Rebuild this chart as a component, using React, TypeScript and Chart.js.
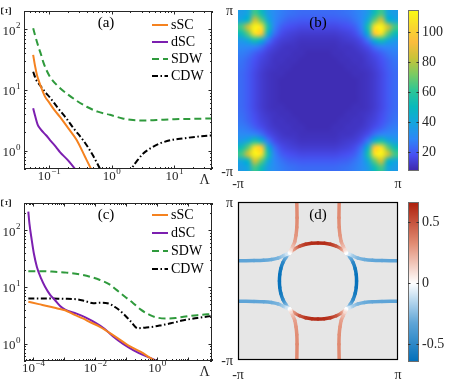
import React, { useEffect, useRef } from "react";
import { Chart, registerables } from "chart.js";

Chart.register(...registerables);

const SERIF = '"Liberation Serif", "Times New Roman", Times, serif';
const INK = "#262626";

// ---------------- shared ----------------
const seriesNames = ["sSC", "dSC", "SDW", "CDW"];
const seriesColors = ["#f5821f", "#7c1fb0", "#2f9a3c", "#000000"];
const seriesDashes: number[][] = [[], [], [7, 4], [6, 2.5, 1.5, 2.5]];

// ---------------- panel (a) ----------------
const aXRange = [0.04, 40];
const aYRange = [0.5, 200];
const aXTickExp = [-1, 0, 1];
const aYTickExp = [0, 1, 2];
const aSscX = [0.056, 0.06, 0.065, 0.07, 0.078, 0.087, 0.1, 0.12, 0.15, 0.2, 0.277, 0.38, 0.48, 0.55];
const aSscY = [38, 25, 17, 13.5, 10, 7.7, 6.3, 4.8, 3.6, 2.4, 1.5, 0.78, 0.48, 0.36];
const aDscX = [0.056, 0.06, 0.066, 0.075, 0.09, 0.104, 0.13, 0.15, 0.2, 0.27, 0.32];
const aDscY = [5.0, 3.8, 2.7, 2.2, 1.8, 1.5, 1.15, 0.95, 0.7, 0.48, 0.38];
const aSdwX = [0.056, 0.06, 0.065, 0.07, 0.075, 0.081, 0.09, 0.104, 0.14, 0.19, 0.28, 0.4, 0.6, 0.94, 1.5, 2.2, 3.5, 5.2, 10, 20, 42];
const aSdwY = [104, 80, 60, 47, 38, 29, 22, 16.5, 11.5, 8.8, 6.6, 5.3, 4.4, 3.9, 3.4, 3.2, 3.15, 3.2, 3.3, 3.35, 3.4];
const aCdwX = [0.056, 0.062, 0.072, 0.085, 0.104, 0.14, 0.19, 0.25, 0.35, 0.5, 0.65, 0.75, 1.3, 1.9, 2.1, 2.6, 3.2, 4.2, 5.9, 9, 14, 25, 42];
const aCdwY = [20, 15, 12, 9.5, 7.5, 5, 3.4, 2.3, 1.5, 0.85, 0.51, 0.4, null, 0.4, 0.51, 0.7, 0.9, 1.1, 1.32, 1.5, 1.6, 1.72, 1.8];

// ---------------- panel (c) ----------------
const cXRange = [5e-5, 60];
const cYRange = [0.5, 300];
const cXTickExp = [-4, -2, 0];
const cYTickExp = [0, 1, 2];
const cSscX = [6.9e-5, 1.5e-4, 3e-4, 6e-4, 1.07e-3, 2e-3, 4e-3, 7e-3, 0.0143, 0.04, 0.134, 0.3, 0.6, 1.0];
const cSscY = [5.5, 5.0, 4.6, 4.2, 3.9, 3.3, 2.8, 2.4, 2.0, 1.4, 0.9, 0.72, 0.57, 0.48];
const cDscX = [6.9e-5, 7.5e-5, 8.9e-5, 1.05e-4, 1.3e-4, 1.8e-4, 2.4e-4, 3.5e-4, 5e-4, 7.5e-4, 1.07e-3, 2.5e-3, 5e-3, 0.011, 0.02, 0.039, 0.08, 0.17, 0.4, 0.86, 1.2];
const cDscY = [211, 130, 67, 38, 22.8, 14, 10.1, 7.3, 5.9, 4.6, 4.0, 3.4, 2.9, 2.3, 1.85, 1.34, 1.0, 0.78, 0.62, 0.52, 0.46];
const cSdwX = [6.9e-5, 2e-4, 5e-4, 1.2e-3, 4e-3, 0.0143, 0.03, 0.049, 0.09, 0.17, 0.3, 0.6, 1.0, 2.1, 4, 7.2, 20, 60];
const cSdwY = [19, 19, 18.5, 17.9, 16.3, 13.3, 11, 8.9, 6.8, 5.2, 4.0, 3.2, 2.9, 2.8, 2.85, 3.0, 3.2, 3.36];
const cCdwX = [6.9e-5, 3e-4, 1e-3, 2.5e-3, 5e-3, 8.7e-3, 0.015, 0.025, 0.045, 0.079, 0.14, 0.24, 0.45, 0.75, 1.5, 2.8, 7.2, 20, 60];
const cCdwY = [6.3, 6.3, 6.2, 6.1, 5.6, 5.2, 5.3, 5.2, 4.4, 3.45, 2.5, 1.88, 1.95, 2.0, 2.15, 2.3, 2.6, 2.85, 3.1];

// ---------------- panel (b) ----------------
const bColorRange = [7.3, 114.5];
const bColorTicks = [20, 40, 60, 80, 100];
// one quadrant (kx, ky from 0 to pi), rows = ky, columns = kx
const bQuadrant = [
  [9, 9, 9, 9, 9, 9, 10, 11, 13, 16, 20, 23],
  [9, 9, 9, 9, 9, 9, 10, 11, 13, 16, 20, 23],
  [9, 9, 9, 9, 9, 10, 10, 11, 13, 16, 20, 23],
  [9, 9, 9, 9, 10, 10, 11, 12, 14, 17, 21, 24],
  [9, 9, 9, 10, 10, 11, 11, 13, 15, 18, 22, 25],
  [9, 9, 10, 10, 11, 11, 12, 14, 17, 21, 25, 27],
  [10, 10, 10, 11, 11, 12, 14, 17, 24, 28, 29, 30],
  [11, 11, 11, 12, 13, 14, 17, 26, 45, 55, 42, 36],
  [13, 13, 13, 14, 15, 17, 24, 45, 98, 106, 68, 52],
  [16, 16, 16, 17, 18, 21, 28, 55, 106, 113, 84, 64],
  [20, 20, 20, 21, 22, 25, 29, 42, 68, 84, 48, 40],
  [23, 23, 23, 24, 25, 27, 30, 36, 52, 64, 40, 36],
];

// ---------------- panel (d) ----------------
const dColorRange = [-0.645, 0.665];
const dColorTicks = [-0.5, 0, 0.5];
// k in units of pi, top-left quadrant pieces
const dVertX = [-0.265, -0.262, -0.265, -0.275, -0.29, -0.315, -0.34, -0.354];
const dVertY = [1.0, 0.8, 0.68, 0.58, 0.5, 0.44, 0.39, 0.354];
const dVertGap = [0.33, 0.33, 0.32, 0.3, 0.27, 0.2, 0.1, 0.0];
const dHorX = [-1.0, -0.8, -0.68, -0.58, -0.5, -0.44, -0.39, -0.354];
const dHorY = [0.255, 0.258, 0.262, 0.272, 0.29, 0.315, 0.34, 0.354];
const dHorGap = [-0.33, -0.33, -0.32, -0.3, -0.27, -0.2, -0.1, 0.0];
const dArcX = [-0.354, -0.3, -0.23, -0.155, -0.08, 0, 0.08, 0.155, 0.23, 0.3, 0.354];
const dArcY = [0.354, 0.4, 0.44, 0.465, 0.478, 0.482, 0.478, 0.465, 0.44, 0.4, 0.354];
const dArcGap = [0, 0.3, 0.5, 0.58, 0.62, 0.63, 0.62, 0.58, 0.5, 0.3, 0];
const dSideX = [-0.354, -0.4, -0.44, -0.465, -0.478, -0.482, -0.478, -0.465, -0.44, -0.4, -0.354];
const dSideY = [0.354, 0.3, 0.23, 0.155, 0.08, 0, -0.08, -0.155, -0.23, -0.3, -0.354];
const dSideGap = [0, -0.3, -0.5, -0.58, -0.62, -0.63, -0.62, -0.58, -0.5, -0.3, 0];

// ---------------- colour maps (style) ----------------
const PARULA: number[][] = [
  [0, 62, 38, 168], [0.1, 71, 80, 243], [0.2, 45, 135, 247], [0.3, 20, 165, 222],
  [0.4, 8, 185, 188], [0.5, 45, 198, 150], [0.6, 122, 203, 98], [0.7, 200, 195, 56],
  [0.8, 251, 188, 61], [0.9, 249, 217, 45], [1, 249, 251, 20],
];
const DIVERGE: number[][] = [
  [0, 0, 110, 185], [0.25, 95, 165, 215], [0.5, 255, 255, 255], [0.75, 225, 140, 115], [1, 175, 35, 15],
];
function interp(stops: number[][], t: number): number[] {
  const tt = Math.max(0, Math.min(1, t));
  for (let i = 1; i < stops.length; i++) {
    if (tt <= stops[i][0]) {
      const a = stops[i - 1], b = stops[i];
      const f = (tt - a[0]) / (b[0] - a[0]);
      return [0, 1, 2].map((k) => Math.round(a[k + 1] + (b[k + 1] - a[k + 1]) * f));
    }
  }
  const l = stops[stops.length - 1];
  return [l[1], l[2], l[3]];
}
const parula = (v: number) => interp(PARULA, (v - bColorRange[0]) / (bColorRange[1] - bColorRange[0]));
const diverge = (v: number) => {
  const c = interp(DIVERGE, (v + 0.65) / 1.3);
  return `rgb(${c[0]},${c[1]},${c[2]})`;
};

// ---------------- helpers ----------------
type XY = { x: number; y: number | null };
const zip = (xs: number[], ys: (number | null)[]): XY[] => xs.map((x, i) => ({ x, y: ys[i] }));

function decadeTicks(min: number, max: number) {
  const out: { v: number; major: boolean }[] = [];
  for (let e = Math.floor(Math.log10(min)); e <= Math.ceil(Math.log10(max)); e++) {
    for (let m = 1; m <= 9; m++) {
      const v = m * Math.pow(10, e);
      if (v >= min * 0.999 && v <= max * 1.001) out.push({ v, major: m === 1 });
    }
  }
  return out;
}

function drawPow(ctx: CanvasRenderingContext2D, x: number, y: number, e: number, align: "center" | "right") {
  const sup = e < 0 ? "\u2212" + -e : String(e);
  ctx.font = `13px ${SERIF}`;
  const w1 = ctx.measureText("10").width;
  ctx.font = `9px ${SERIF}`;
  const w2 = ctx.measureText(sup).width;
  const start = align === "center" ? x - (w1 + w2) / 2 : x - w1 - w2;
  ctx.textAlign = "left";
  ctx.textBaseline = "middle";
  ctx.font = `13px ${SERIF}`;
  ctx.fillText("10", start, y);
  ctx.font = `9px ${SERIF}`;
  ctx.fillText(sup, start + w1 + 0.5, y - 5.5);
}

const baseOptions = (padding: any) => ({
  responsive: false,
  maintainAspectRatio: false,
  animation: false,
  devicePixelRatio: 1,
  events: [],
  layout: { padding },
  plugins: { legend: { display: false }, tooltip: { enabled: false } },
});

interface LogPanel {
  tag: string;
  xRange: number[];
  yRange: number[];
  xExp: number[];
  yExp: number[];
  xs: number[][];
  ys: (number | null)[][];
  legendTop: number;
  legendStep: number;
  padding: any;
}

function logChartConfig(p: LogPanel): any {
  const plugin = {
    id: "logAxes",
    afterDatasetsDraw(chart: any) {
      const { ctx, chartArea: a } = chart;
      const sx = chart.scales.x, sy = chart.scales.y;
      ctx.save();
      ctx.strokeStyle = INK;
      ctx.lineWidth = 1;
      ctx.setLineDash([]);
      ctx.beginPath();
      for (const t of decadeTicks(p.xRange[0], p.xRange[1])) {
        const px = Math.round(sx.getPixelForValue(t.v)) + 0.5;
        const L = t.major ? 3.5 : 2;
        ctx.moveTo(px, a.bottom); ctx.lineTo(px, a.bottom - L);
        ctx.moveTo(px, a.top); ctx.lineTo(px, a.top + L);
      }
      for (const t of decadeTicks(p.yRange[0], p.yRange[1])) {
        const py = Math.round(sy.getPixelForValue(t.v)) + 0.5;
        const L = t.major ? 3.5 : 2;
        ctx.moveTo(a.left, py); ctx.lineTo(a.left + L, py);
        ctx.moveTo(a.right, py); ctx.lineTo(a.right - L, py);
      }
      ctx.stroke();
      ctx.strokeRect(a.left + 0.5, a.top + 0.5, a.right - a.left - 1, a.bottom - a.top - 1);
      ctx.restore();
    },
    afterDraw(chart: any) {
      const { ctx, chartArea: a } = chart;
      const sx = chart.scales.x, sy = chart.scales.y;
      ctx.save();
      ctx.fillStyle = INK;
      for (const e of p.xExp) drawPow(ctx, sx.getPixelForValue(Math.pow(10, e)), a.bottom + 8, e, "center");
      for (const e of p.yExp) drawPow(ctx, a.left - 4, sy.getPixelForValue(Math.pow(10, e)) + 2, e, "right");
      ctx.font = `14px ${SERIF}`;
      ctx.textAlign = "center";
      ctx.textBaseline = "middle";
      ctx.fillText("\u039B", a.right - 7.5, a.bottom + 11);
      ctx.save();
      ctx.translate(a.left - 16.5, a.top);
      ctx.rotate(-Math.PI / 2);
      ctx.fillText("\u039E", 0, 0);
      ctx.restore();
      ctx.fillStyle = "#000";
      ctx.font = `15px ${SERIF}`;
      ctx.fillText(p.tag, a.left + 82, a.top + 12);
      chart.data.datasets.forEach((ds: any, i: number) => {
        const yy = a.top + p.legendTop + i * p.legendStep;
        ctx.strokeStyle = ds.borderColor;
        ctx.lineWidth = ds.borderWidth;
        ctx.setLineDash(ds.borderDash || []);
        ctx.beginPath();
        ctx.moveTo(a.right - 60, yy);
        ctx.lineTo(a.right - 44, yy);
        ctx.stroke();
        ctx.setLineDash([]);
        ctx.fillStyle = "#000";
        ctx.font = `14px ${SERIF}`;
        ctx.textAlign = "left";
        ctx.textBaseline = "middle";
        ctx.fillText(ds.label, a.right - 41, yy + 0.5);
      });
      ctx.restore();
    },
  };
  return {
    type: "line",
    data: {
      datasets: p.xs.map((xs, i) => ({
        label: seriesNames[i],
        data: zip(xs, p.ys[i]),
        borderColor: seriesColors[i],
        borderWidth: 2,
        borderDash: seriesDashes[i],
        pointRadius: 0,
        fill: false,
        cubicInterpolationMode: "monotone",
        spanGaps: false,
        clip: 0,
      })),
    },
    options: {
      ...baseOptions(p.padding),
      scales: {
        x: { type: "logarithmic", min: p.xRange[0], max: p.xRange[1], display: false, bounds: "data" },
        y: { type: "logarithmic", min: p.yRange[0], max: p.yRange[1], display: false, bounds: "data" },
      },
    },
    plugins: [plugin],
  };
}

function piLabels(chart: any, dyBottom: number) {
  const { ctx } = chart;
  const sx = chart.scales.x, sy = chart.scales.y;
  const l = sx.getPixelForValue(-1), r = sx.getPixelForValue(1);
  const t = sy.getPixelForValue(1), b = sy.getPixelForValue(-1);
  ctx.fillStyle = INK;
  ctx.font = `14px ${SERIF}`;
  ctx.textBaseline = "middle";
  ctx.textAlign = "right";
  ctx.fillText("\u03C0", l - 5, t + 1);
  ctx.fillText("-\u03C0", l - 5, b + 1);
  ctx.textAlign = "center";
  ctx.fillText("-\u03C0", l, b + dyBottom);
  ctx.fillText("\u03C0", r, b + dyBottom);
}

const squareScales = {
  x: { type: "linear", min: -1, max: 1, display: false, bounds: "data" },
  y: { type: "linear", min: -1, max: 1, display: false, bounds: "data" },
};

function heatConfig(): any {
  const plugin = {
    id: "heat",
    beforeDatasetsDraw(chart: any) {
      const { ctx } = chart;
      const sx = chart.scales.x, sy = chart.scales.y;
      const n = bQuadrant.length;
      const N = 2 * n;
      const off = document.createElement("canvas");
      off.width = N;
      off.height = N;
      const octx = off.getContext("2d")!;
      const img = octx.createImageData(N, N);
      for (let r = 0; r < N; r++) {
        for (let c = 0; c < N; c++) {
          const j = r < n ? n - 1 - r : r - n;
          const i = c < n ? n - 1 - c : c - n;
          const col = parula(bQuadrant[j][i]);
          const k = (r * N + c) * 4;
          img.data[k] = col[0];
          img.data[k + 1] = col[1];
          img.data[k + 2] = col[2];
          img.data[k + 3] = 255;
        }
      }
      octx.putImageData(img, 0, 0);
      const l = sx.getPixelForValue(-1), rr = sx.getPixelForValue(1);
      const t = sy.getPixelForValue(1), b = sy.getPixelForValue(-1);
      ctx.save();
      ctx.imageSmoothingEnabled = true;
      ctx.imageSmoothingQuality = "high";
      ctx.drawImage(off, l, t, rr - l, b - t);
      ctx.restore();
    },
    afterDraw(chart: any) {
      const { ctx, chartArea: a } = chart;
      ctx.save();
      piLabels(chart, 13);
      ctx.fillStyle = "#000";
      ctx.font = `15px ${SERIF}`;
      ctx.textAlign = "center";
      ctx.textBaseline = "middle";
      ctx.fillText("(b)", (a.left + a.right) / 2, a.top + 13);
      ctx.restore();
    },
  };
  return {
    type: "line",
    data: { datasets: [] },
    options: { ...baseOptions({ left: 26, right: 6, top: 10, bottom: 21 }), scales: squareScales },
    plugins: [plugin],
  };
}

function fermiConfig(): any {
  const curve = (xs: number[], ys: number[], gaps: number[], sx: number, sy: number) => ({
    data: xs.map((x, i) => ({ x: x * sx, y: ys[i] * sy })),
    borderWidth: 3.5,
    pointRadius: 0,
    borderCapStyle: "round",
    borderJoinStyle: "round",
    tension: 0.35,
    clip: 0,
    fill: false,
    borderColor: diverge(gaps[Math.floor(gaps.length / 2)]),
    segment: {
      borderColor: (c: any) => {
        const g = c.chart.ctx.createLinearGradient(c.p0.x, c.p0.y, c.p1.x, c.p1.y);
        g.addColorStop(0, diverge(gaps[c.p0DataIndex]));
        g.addColorStop(1, diverge(gaps[c.p1DataIndex]));
        return g;
      },
    },
  });
  const signs = [[1, 1], [-1, 1], [1, -1], [-1, -1]];
  const datasets: any[] = [];
  for (const [sx, sy] of signs) datasets.push(curve(dVertX, dVertY, dVertGap, sx, sy));
  for (const [sx, sy] of signs) datasets.push(curve(dHorX, dHorY, dHorGap, sx, sy));
  datasets.push(curve(dArcX, dArcY, dArcGap, 1, 1));
  datasets.push(curve(dArcX, dArcY, dArcGap, 1, -1));
  datasets.push(curve(dSideX, dSideY, dSideGap, 1, 1));
  datasets.push(curve(dSideX, dSideY, dSideGap, -1, 1));
  const plugin = {
    id: "fermi",
    beforeDatasetsDraw(chart: any) {
      const { ctx, chartArea: a } = chart;
      ctx.save();
      ctx.fillStyle = "#e6e6e6";
      ctx.fillRect(a.left, a.top, a.right - a.left, a.bottom - a.top);
      ctx.restore();
    },
    afterDatasetsDraw(chart: any) {
      const { ctx, chartArea: a } = chart;
      ctx.save();
      ctx.strokeStyle = "#000";
      ctx.lineWidth = 1.2;
      ctx.strokeRect(a.left + 0.5, a.top + 0.5, a.right - a.left - 1, a.bottom - a.top - 1);
      ctx.restore();
    },
    afterDraw(chart: any) {
      const { ctx, chartArea: a } = chart;
      ctx.save();
      piLabels(chart, 15);
      ctx.fillStyle = "#000";
      ctx.font = `15px ${SERIF}`;
      ctx.textAlign = "center";
      ctx.textBaseline = "middle";
      ctx.fillText("(d)", (a.left + a.right) / 2, a.top + 13);
      ctx.restore();
    },
  };
  return {
    type: "line",
    data: { datasets },
    options: { ...baseOptions({ left: 26, right: 6, top: 10, bottom: 22 }), scales: squareScales },
    plugins: [plugin],
  };
}

function colorbarConfig(range: number[], ticks: number[], color: (v: number) => string, fmt: (v: number) => string, padding: any): any {
  const plugin = {
    id: "colorbar",
    afterDraw(chart: any) {
      const { ctx, chartArea: a } = chart;
      const sy = chart.scales.y;
      ctx.save();
      for (let py = Math.floor(a.top); py < a.bottom; py++) {
        ctx.fillStyle = color(sy.getValueForPixel(py + 0.5));
        ctx.fillRect(a.left, py, a.right - a.left, 1);
      }
      ctx.strokeStyle = "#6e6e6e";
      ctx.lineWidth = 1;
      ctx.strokeRect(a.left + 0.5, a.top + 0.5, a.right - a.left - 1, a.bottom - a.top - 1);
      ctx.strokeStyle = "#333";
      ctx.beginPath();
      for (const v of ticks) {
        const py = Math.round(sy.getPixelForValue(v)) + 0.5;
        ctx.moveTo(a.right, py);
        ctx.lineTo(a.right - 2.5, py);
        ctx.moveTo(a.left, py);
        ctx.lineTo(a.left + 2.5, py);
      }
      ctx.stroke();
      ctx.fillStyle = INK;
      ctx.font = `14px ${SERIF}`;
      ctx.textAlign = "left";
      ctx.textBaseline = "middle";
      for (const v of ticks) ctx.fillText(fmt(v), a.right + 3, sy.getPixelForValue(v) + 0.5);
      ctx.restore();
    },
  };
  return {
    type: "line",
    data: { datasets: [] },
    options: {
      ...baseOptions(padding),
      scales: {
        x: { type: "linear", min: 0, max: 1, display: false, bounds: "data" },
        y: { type: "linear", min: range[0], max: range[1], display: false, bounds: "data" },
      },
    },
    plugins: [plugin],
  };
}

function ChartBox({ make, left, top, width, height }: { make: () => any; left: number; top: number; width: number; height: number }) {
  const ref = useRef<HTMLCanvasElement>(null);
  useEffect(() => {
    const chart = new Chart(ref.current as HTMLCanvasElement, make());
    return () => chart.destroy();
  }, []);
  return (
    <canvas
      ref={ref}
      width={width}
      height={height}
      style={{ position: "absolute", left, top, width, height, display: "block" }}
    />
  );
}

export default function App() {
  const panelA = () =>
    logChartConfig({
      tag: "(a)",
      xRange: aXRange,
      yRange: aYRange,
      xExp: aXTickExp,
      yExp: aYTickExp,
      xs: [aSscX, aDscX, aSdwX, aCdwX],
      ys: [aSscY, aDscY, aSdwY, aCdwY],
      legendTop: 14,
      legendStep: 17,
      padding: { left: 24, right: 14, top: 11, bottom: 23 },
    });
  const panelC = () =>
    logChartConfig({
      tag: "(c)",
      xRange: cXRange,
      yRange: cYRange,
      xExp: cXTickExp,
      yExp: cYTickExp,
      xs: [cSscX, cDscX, cSdwX, cCdwX],
      ys: [cSscY, cDscY, cSdwY, cCdwY],
      legendTop: 12,
      legendStep: 18,
      padding: { left: 24, right: 14, top: 11, bottom: 21 },
    });
  const rgb = (c: number[]) => `rgb(${c[0]},${c[1]},${c[2]})`;
  return (
    <div style={{ position: "absolute", left: 0, top: 0, width: 449, height: 382, background: "#fff", overflow: "hidden" }}>
      <ChartBox make={panelA} left={0} top={0} width={226} height={192} />
      <ChartBox make={panelC} left={0} top={192} width={226} height={190} />
      <ChartBox make={heatConfig} left={212} top={0} width={192} height={192} />
      <ChartBox make={fermiConfig} left={212} top={192} width={192} height={190} />
      <ChartBox
        make={() => colorbarConfig(bColorRange, bColorTicks, (v) => rgb(parula(v)), (v) => String(v), { left: 8, right: 30, top: 10, bottom: 21 })}
        left={400}
        top={0}
        width={49}
        height={192}
      />
      <ChartBox
        make={() => colorbarConfig(dColorRange, dColorTicks, diverge, (v) => String(v), { left: 8, right: 30, top: 10, bottom: 20 })}
        left={400}
        top={192}
        width={49}
        height={190}
      />
    </div>
  );
}
